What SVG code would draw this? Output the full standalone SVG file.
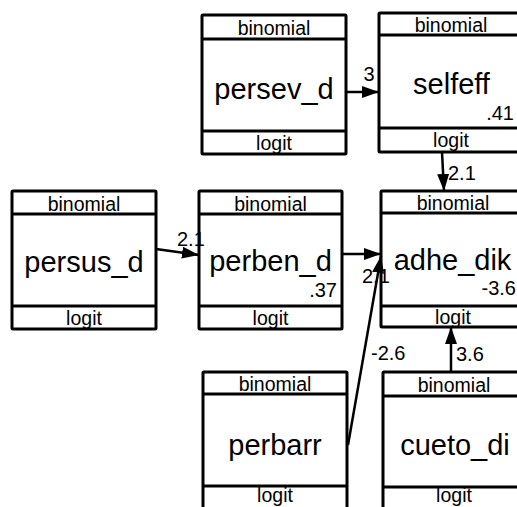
<svg xmlns="http://www.w3.org/2000/svg" width="517" height="507" viewBox="0 0 517 507">
<defs>
<style>
.box{fill:#fff;stroke:#000;stroke-width:3}
.sep{stroke:#000;stroke-width:3}
.sm{font-family:"Liberation Sans",Arial,sans-serif;font-size:19.5px;fill:#000;text-anchor:middle}
.lb{font-family:"Liberation Sans",Arial,sans-serif;font-size:29px;fill:#000;text-anchor:middle}
.num{font-family:"Liberation Sans",Arial,sans-serif;font-size:20px;fill:#000}
.edge{stroke:#000;stroke-width:2.5;fill:none;marker-end:url(#ah)}
</style>
<marker id="ah" markerUnits="userSpaceOnUse" markerWidth="18" markerHeight="13" refX="17" refY="6" orient="auto">
<path d="M0,0 L17,6 L0,12 z" fill="#000"/>
</marker>
</defs>
<rect width="517" height="507" fill="#fff"/>

<g id="persev_d">
<rect class="box" x="202" y="15" width="144" height="139" rx="1"/>
<line class="sep" x1="202" y1="39" x2="346" y2="39"/>
<line class="sep" x1="202" y1="131" x2="346" y2="131"/>
<text class="sm" x="274" y="35">binomial</text>
<text class="lb" x="274" y="99">persev_d</text>
<text class="sm" x="274" y="150">logit</text>
</g>

<g id="selfeff">
<rect class="box" x="379" y="13" width="145" height="139" rx="1"/>
<line class="sep" x1="379" y1="35" x2="524" y2="35"/>
<line class="sep" x1="379" y1="128" x2="524" y2="128"/>
<text class="sm" x="451" y="32">binomial</text>
<text class="lb" x="451.5" y="94">selfeff</text>
<text class="num" x="514" y="120" text-anchor="end">.41</text>
<text class="sm" x="451" y="147">logit</text>
</g>

<g id="persus_d">
<rect class="box" x="12" y="191" width="144" height="138" rx="1"/>
<line class="sep" x1="12" y1="214" x2="156" y2="214"/>
<line class="sep" x1="12" y1="306" x2="156" y2="306"/>
<text class="sm" x="84" y="211">binomial</text>
<text class="lb" x="84" y="272">persus_d</text>
<text class="sm" x="84" y="325">logit</text>
</g>

<g id="perben_d">
<rect class="box" x="199" y="191" width="143" height="138" rx="1"/>
<line class="sep" x1="199" y1="214" x2="342" y2="214"/>
<line class="sep" x1="199" y1="306" x2="342" y2="306"/>
<text class="sm" x="270.5" y="211">binomial</text>
<text class="lb" x="270.5" y="271">perben_d</text>
<text class="num" x="337" y="297" text-anchor="end">.37</text>
<text class="sm" x="270.5" y="325">logit</text>
</g>

<g id="adhe_dik">
<rect class="box" x="381" y="191" width="143" height="136" rx="1"/>
<line class="sep" x1="381" y1="213" x2="524" y2="213"/>
<line class="sep" x1="381" y1="306" x2="524" y2="306"/>
<text class="sm" x="453" y="210">binomial</text>
<text class="lb" x="452.5" y="270">adhe_dik</text>
<text class="num" x="516" y="295" text-anchor="end">-3.6</text>
<text class="sm" x="453" y="324">logit</text>
</g>

<g id="perbarr">
<rect class="box" x="203" y="372" width="144" height="139" rx="1"/>
<line class="sep" x1="203" y1="394" x2="347" y2="394"/>
<line class="sep" x1="203" y1="486" x2="347" y2="486"/>
<text class="sm" x="275" y="391">binomial</text>
<text class="lb" x="275" y="455">perbarr</text>
<text class="sm" x="275" y="502">logit</text>
</g>

<g id="cueto_di">
<rect class="box" x="383" y="372" width="144" height="139" rx="1"/>
<line class="sep" x1="383" y1="396" x2="527" y2="396"/>
<line class="sep" x1="383" y1="487" x2="527" y2="487"/>
<text class="sm" x="454" y="392">binomial</text>
<text class="lb" x="455" y="455">cueto_di</text>
<text class="sm" x="454" y="502">logit</text>
</g>

<g id="connectors">
<line class="edge" x1="346" y1="92" x2="379" y2="92"/>
<text class="num" x="369" y="81" text-anchor="middle">3</text>
<line class="edge" x1="442" y1="152" x2="444" y2="191"/>
<text class="num" x="448" y="180">2.1</text>
<line class="edge" x1="156" y1="249" x2="199" y2="255"/>
<text class="num" x="177" y="246">2.1</text>
<line class="edge" x1="342" y1="254" x2="381" y2="254"/>
<text class="num" x="362" y="283">2.1</text>
<line class="edge" x1="348" y1="445" x2="381" y2="256"/>
<text class="num" x="371" y="360">-2.6</text>
<line class="edge" x1="451" y1="372" x2="451" y2="327"/>
<text class="num" x="456" y="361">3.6</text>
</g>
</svg>
